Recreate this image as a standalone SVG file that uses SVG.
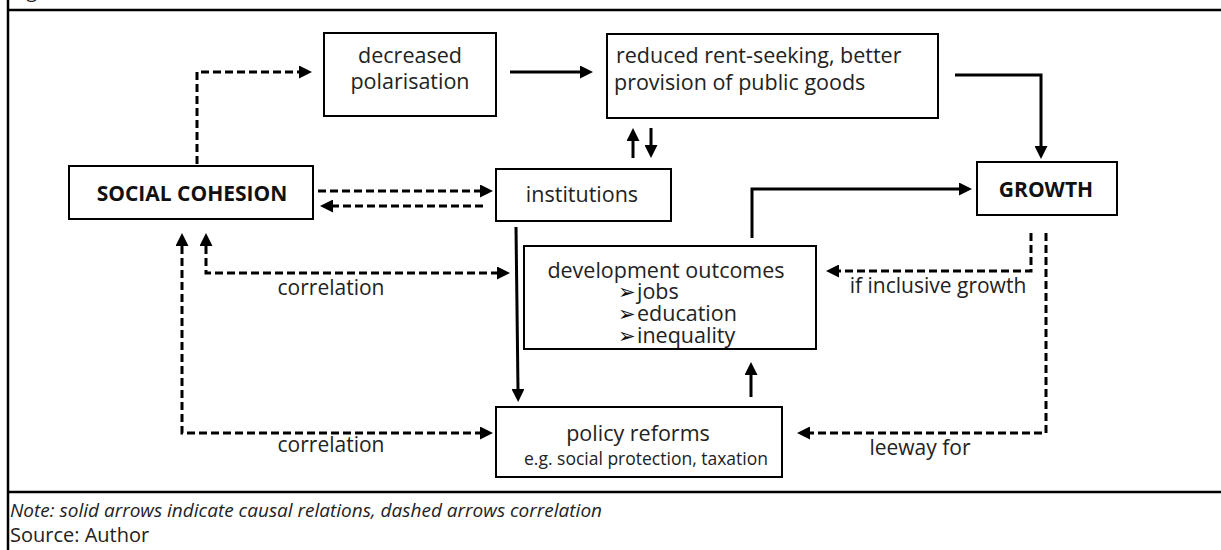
<svg xmlns="http://www.w3.org/2000/svg" width="1221" height="550" viewBox="0 0 1221 550">
<style>
  .box { fill: #fff; stroke: #000; stroke-width: 2; }
  .t { font-family: "Open Sans", "Liberation Sans", sans-serif; fill: #222; font-size: 21.5px; }
  .lbl { font-family: "Open Sans", "Liberation Sans", sans-serif; fill: #222; font-size: 21px; text-anchor: middle; }
  .b { font-family: "Open Sans", "Liberation Sans", sans-serif; font-weight: bold; fill: #111; font-size: 21px; text-anchor: middle; }
  .bul { font-family: "DejaVu Sans", sans-serif; fill: #111; font-size: 21px; }
  .solid { fill: none; stroke: #000; stroke-width: 3; }
  .dash { fill: none; stroke: #000; stroke-width: 3; stroke-dasharray: 8 4; }
  .frame { fill: none; stroke: #000; stroke-width: 2.5; }
</style>
<defs>
  <marker id="ah" markerUnits="userSpaceOnUse" markerWidth="14" markerHeight="13" refX="0" refY="6.5" orient="auto-start-reverse" viewBox="0 0 14 13">
    <path d="M0,0 L13,6.5 L0,13 z" fill="#000"/>
  </marker>
</defs>
<rect width="1221" height="550" fill="#fff"/>
<g id="frame">
  <line class="frame" x1="8" y1="0" x2="8" y2="550"/>
  <line class="frame" x1="8" y1="10" x2="1221" y2="10"/>
  <line class="frame" x1="8" y1="492" x2="1221" y2="492"/>
  <text class="t" x="12" y="-2" style="font-size:19px">Figure</text>
</g>
<g id="connectors">
  <path class="dash" d="M197,164 V72 H299" marker-end="url(#ah)"/>
  <path class="solid" d="M510,72 H580" marker-end="url(#ah)"/>
  <path class="solid" d="M955,75 H1041 V146" marker-end="url(#ah)"/>
  <path class="dash" d="M318,191 H480" marker-end="url(#ah)"/>
  <path class="dash" d="M483,206 H333" marker-end="url(#ah)"/>
  <path class="solid" d="M633,158 V141" marker-end="url(#ah)"/>
  <path class="solid" d="M651,128 V145" marker-end="url(#ah)"/>
  <path class="solid" d="M516,227 L518,389" marker-end="url(#ah)"/>
  <path class="solid" d="M752,238 V189 H959" marker-end="url(#ah)"/>
  <path class="solid" d="M751,397 V375" marker-end="url(#ah)"/>
  <path class="dash" d="M206,246 V273 H497" marker-start="url(#ah)" marker-end="url(#ah)"/>
  <path class="dash" d="M182,246 V433 H480" marker-start="url(#ah)" marker-end="url(#ah)"/>
  <path class="dash" d="M1031,233 V271 H839" marker-end="url(#ah)"/>
  <path class="dash" d="M1046,233 V433 H810" marker-end="url(#ah)"/>
  <text class="lbl" x="331" y="295">correlation</text>
  <text class="lbl" x="331" y="452">correlation</text>
  <text class="lbl" x="938" y="293">if inclusive growth</text>
  <text class="lbl" x="920" y="455">leeway for</text>
</g>
<g id="decreased-polarisation">
  <rect class="box" x="324" y="33" width="172" height="83"/>
  <text class="t" x="410" y="63" text-anchor="middle">decreased</text>
  <text class="t" x="410" y="89" text-anchor="middle">polarisation</text>
</g>
<g id="reduced-rent-seeking">
  <rect class="box" x="607" y="34" width="331" height="84"/>
  <text class="t" x="616" y="63">reduced rent-seeking, better</text>
  <text class="t" x="614" y="90">provision of public goods</text>
</g>
<g id="social-cohesion">
  <rect class="box" x="69" y="166" width="244" height="53"/>
  <text class="b" x="192" y="201">SOCIAL COHESION</text>
</g>
<g id="institutions">
  <rect class="box" x="496" y="169" width="175" height="52"/>
  <text class="t" x="582" y="202" text-anchor="middle">institutions</text>
</g>
<g id="growth">
  <rect class="box" x="977" y="162" width="140" height="53"/>
  <text class="b" x="1046" y="197">GROWTH</text>
</g>
<g id="development-outcomes">
  <rect class="box" x="524" y="246" width="292" height="103"/>
  <text class="t" x="666" y="278" text-anchor="middle">development outcomes</text>
  <text class="bul" x="618" y="299">➢</text>
  <text class="bul" x="618" y="321">➢</text>
  <text class="bul" x="618" y="343">➢</text>
  <text class="t" x="637" y="299">jobs</text>
  <text class="t" x="637" y="321">education</text>
  <text class="t" x="637" y="343">inequality</text>
</g>
<g id="policy-reforms">
  <rect class="box" x="496" y="407" width="286" height="70"/>
  <text class="t" x="638" y="441" text-anchor="middle">policy reforms</text>
  <text class="t" x="646" y="465" style="font-size:17.5px" text-anchor="middle">e.g. social protection, taxation</text>
</g>
<g id="footer">
  <text class="t" x="10" y="517" style="font-size:19px;font-style:italic">Note: solid arrows indicate causal relations, dashed arrows correlation</text>
  <text class="t" x="10" y="542" style="font-size:20px">Source: Author</text>
</g>
</svg>
